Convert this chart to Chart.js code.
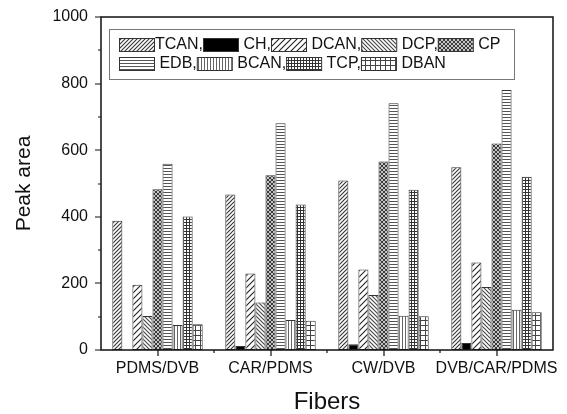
<!DOCTYPE html>
<html>
<head>
<meta charset="utf-8">
<script src="https://cdn.jsdelivr.net/npm/chart.js@4.4.0/dist/chart.umd.min.js"></script>
<style>
  html, body { margin: 0; padding: 0; background: #fff; }
  #wrap { width: 567px; height: 414px; }
</style>
</head>
<body>
<div id="wrap"><canvas id="barChart"></canvas></div>
<script>
// fibres (categories) and y ticks
const fibers = ['PDMS/DVB', 'CAR/PDMS', 'CW/DVB', 'DVB/CAR/PDMS'];
const yTicks = [0, 200, 400, 600, 800, 1000];

// peak area of each compound, one value per fibre
const compounds = ['TCAN', 'CH', 'DCAN', 'DCP', 'CP', 'EDB', 'BCAN', 'TCP', 'DBAN'];
const tcan = [388, 467, 509, 549];
const ch = [0, 12, 17, 21];
const dcan = [196, 230, 242, 263];
const dcp = [102, 143, 165, 189];
const cp = [483, 525, 566, 620];
const edb = [559, 681, 741, 781];
const bcan = [75, 90, 103, 121];
const tcp = [401, 437, 481, 520];
const dban = [77, 88, 101, 113];
const values = [tcan, ch, dcan, dcp, cp, edb, bcan, tcp, dban];

const FONT = '"Liberation Sans", Arial, sans-serif';

// petit motif de hachures
function hatch(size, color, lw, draw) {
    const c = document.createElement('canvas');
    c.width = size;
    c.height = size;
    const g = c.getContext('2d');
    g.fillStyle = '#fff';
    g.fillRect(0, 0, size, size);
    g.strokeStyle = color;
    g.fillStyle = color;
    g.lineWidth = lw;
    draw(g, size);
    return g.createPattern(c, 'repeat');
}

function slash(g, s) {
    g.beginPath();
    g.moveTo(-1, s + 1); g.lineTo(s + 1, -1);
    g.moveTo(-1, 1); g.lineTo(1, -1);
    g.moveTo(s - 1, s + 1); g.lineTo(s + 1, s - 1);
    g.stroke();
}

function backslash(g, s) {
    g.beginPath();
    g.moveTo(-1, -1); g.lineTo(s + 1, s + 1);
    g.moveTo(s - 1, -1); g.lineTo(s + 1, 1);
    g.moveTo(-1, s - 1); g.lineTo(1, s + 1);
    g.stroke();
}

function makePatterns() {
    return [
        hatch(4, '#333', 1.1, slash),
        '#000',
        hatch(6, '#222', 1.1, slash),
        hatch(4, '#444', 1.1, backslash),
        hatch(4, '#333', 1.1, (g, s) => { slash(g, s); backslash(g, s); }),
        hatch(3, '#555', 1, (g, s) => g.fillRect(0, 0, s, 1)),
        hatch(3, '#666', 1, (g, s) => g.fillRect(0, 0, 1, s)),
        hatch(3, '#333', 1, (g, s) => { g.fillRect(0, 0, s, 1); g.fillRect(0, 0, 1, s); }),
        hatch(5, '#444', 1, (g, s) => { g.fillRect(0, 0, s, 1); g.fillRect(0, 0, 1, s); })
    ];
}

// cadre, graduations et légende
const framePlugin = {
    id: 'frame',
    afterDraw(chart) {
        const ctx = chart.ctx;
        const a = chart.chartArea;
        const xs = chart.scales.x;
        const ys = chart.scales.y;
        ctx.save();
        ctx.strokeStyle = '#111';
        ctx.lineWidth = 1.5;
        ctx.strokeRect(a.left, a.top, a.right - a.left, a.bottom - a.top);

        ctx.lineWidth = 1.2;
        ctx.beginPath();
        yTicks.forEach((v, i) => {
            const py = Math.round(ys.getPixelForValue(v));
            ctx.moveTo(a.left - 6, py); ctx.lineTo(a.left, py);
            if (i < yTicks.length - 1) {
                const pm = Math.round(ys.getPixelForValue((v + yTicks[i + 1]) / 2));
                ctx.moveTo(a.left - 3, pm); ctx.lineTo(a.left, pm);
            }
        });
        fibers.forEach((f, i) => {
            const px = Math.round(xs.getPixelForValue(i));
            ctx.moveTo(px, a.bottom); ctx.lineTo(px, a.bottom + 6);
            if (i > 0) {
                const pb = Math.round(xs.getPixelForValue(i - 0.5));
                ctx.moveTo(pb, a.bottom); ctx.lineTo(pb, a.bottom + 3);
            }
        });
        ctx.stroke();

        // légende
        const bx = a.left + 8, by = a.top + 12;
        ctx.fillStyle = '#fff';
        ctx.fillRect(bx, by, 405, 50);
        ctx.strokeStyle = '#777';
        ctx.lineWidth = 1;
        ctx.strokeRect(bx + 0.5, by + 0.5, 405, 50);

        ctx.font = '16px ' + FONT;
        ctx.textBaseline = 'middle';
        const patterns = chart.data.datasets.map(d => d.backgroundColor);
        const rows = [[0, 1, 2, 3, 4], [5, 6, 7, 8]];
        rows.forEach((row, r) => {
            let x = bx + 10;
            const y = by + (r === 0 ? 9 : 28);
            row.forEach((k, j) => {
                ctx.fillStyle = patterns[k];
                ctx.fillRect(x, y, 35, 13);
                ctx.strokeStyle = '#333';
                ctx.strokeRect(x + 0.5, y + 0.5, 35, 13);
                x += 36;
                let txt = (k === 0 ? '' : ' ') + compounds[k] + (j < row.length - 1 ? ',' : '');
                ctx.fillStyle = '#111';
                ctx.fillText(txt, x, y + 7);
                x += ctx.measureText(txt).width;
            });
        });
        ctx.restore();
    }
};

window.addEventListener('load', () => {
    const patterns = makePatterns();
    const datasets = compounds.map((name, k) => ({
        label: name,
        data: values[k],
        backgroundColor: patterns[k],
        borderColor: '#333',
        borderWidth: 1,
        borderSkipped: false
    }));

    const ctx = document.getElementById('barChart').getContext('2d');
    new Chart(ctx, {
        type: 'bar',
        data: { labels: fibers, datasets: datasets },
        options: {
            responsive: true,
            maintainAspectRatio: false,
            animation: false,
            events: [],
            layout: { padding: { top: 17, right: 14, left: 0, bottom: 0 } },
            datasets: { bar: { categoryPercentage: 0.8, barPercentage: 1 } },
            plugins: { legend: { display: false }, tooltip: { enabled: false } },
            scales: {
                x: {
                    grid: { display: false, drawTicks: false },
                    border: { display: false },
                    ticks: { color: '#111', font: { family: FONT, size: 16 }, padding: 9, maxRotation: 0, autoSkip: false },
                    title: { display: true, text: 'Fibers', color: '#111', font: { family: FONT, size: 24, lineHeight: 1 }, padding: 0 },
                    afterFit(scale) {
                        scale.height = 64;
                        scale.paddingLeft = 0;
                        scale.paddingRight = 0;
                    }
                },
                y: {
                    min: 0,
                    max: 1000,
                    grid: { display: false, drawTicks: false },
                    border: { display: false },
                    afterBuildTicks(scale) { scale.ticks = yTicks.map(v => ({ value: v })); },
                    ticks: { color: '#111', font: { family: FONT, size: 16 }, padding: 13, callback: v => String(v) },
                    title: { display: true, text: 'Peak area', color: '#111', font: { family: FONT, size: 21, lineHeight: 1 }, padding: { top: 14, bottom: 0 } },
                    afterFit(scale) {
                        scale.width = 101;
                        scale.paddingTop = 0;
                        scale.paddingBottom = 0;
                    }
                }
            }
        },
        plugins: [framePlugin]
    });
});
</script>
</body>
</html>
